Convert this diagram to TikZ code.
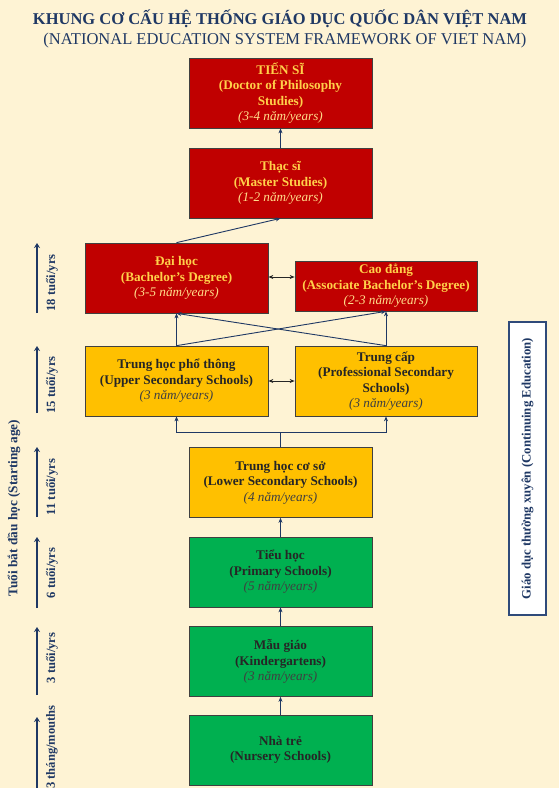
\documentclass[tikz,border=0pt]{standalone}
\usepackage{fontspec}
\setmainfont{Liberation Serif}
\usetikzlibrary{arrows.meta,calc}
\definecolor{bgc}{HTML}{FEF3D4}
\definecolor{redc}{HTML}{C00000}
\definecolor{yelc}{HTML}{FFC000}
\definecolor{grnc}{HTML}{00B050}
\definecolor{goldtxt}{HTML}{FFD04A}
\definecolor{golditc}{HTML}{FFDC8A}
\definecolor{navyc}{HTML}{1F3864}
\definecolor{darktxt}{HTML}{262626}
\definecolor{rboxc}{HTML}{2F4A7A}
\tikzset{
  box/.style={draw=black!75, line width=0.7pt, minimum width=183pt, minimum height=70pt,
    align=center, inner sep=1pt, font=\fontsize{13.2}{15.5}\selectfont\bfseries},
  redbox/.style={box, fill=redc, text=goldtxt},
  yelbox/.style={box, fill=yelc, text=darktxt},
  grnbox/.style={box, fill=grnc, text=darktxt},
  conn/.style={draw=navyc, line width=0.9pt, -{Stealth[length=5pt,width=4pt]}},
  dbl/.style={draw=black!85, line width=0.9pt, {Stealth[length=5pt,width=4pt]}-{Stealth[length=5pt,width=4pt]}},
  agearrow/.style={draw=navyc, line width=2.6pt, -{Stealth[length=5pt,width=6pt]}},
  agelabel/.style={rotate=90, font=\fontsize{12.6}{14}\selectfont\bfseries, text=navyc, inner sep=0pt},
}
\newcommand{\itred}[1]{{\mdseries\itshape\color{golditc}#1}}
\newcommand{\itdark}[1]{{\mdseries\itshape\color{black!75}#1}}
\begin{document}
\begin{tikzpicture}[x=1pt,y=-1pt]
\useasboundingbox (0,0) rectangle (559,788);
\fill[bgc] (0,0) rectangle (559,788);

% titles
\node[font=\fontsize{16.5}{19}\selectfont\bfseries, text=navyc] (t1) at (280,19) {KHUNG CƠ CẤU HỆ THỐNG GIÁO DỤC QUỐC DÂN VIỆT NAM};
\node[font=\fontsize{16.5}{19}\selectfont, text=navyc] (t2) at (285,41) {(NATIONAL EDUCATION SYSTEM FRAMEWORK OF VIET NAM)};

% boxes
\node[redbox] (phd) at (280.5,93) {TIẾN SĨ\\(Doctor of Philosophy\\Studies)\\\itred{(3-4 năm/years)}};
\node[redbox] (ms) at (280.5,183) {Thạc sĩ\\(Master Studies)\\\itred{(1-2 năm/years)}};
\node[redbox] (dh) at (176.5,278) {Đại học\\(Bachelor’s Degree)\\\itred{(3-5 năm/years)}};
\node[redbox, minimum width=182pt, minimum height=50pt] (cd) at (386,286) {Cao đẳng\\(Associate Bachelor’s Degree)\\\itred{(2-3 năm/years)}};
\node[yelbox] (thpt) at (176.5,381) {Trung học phổ thông\\(Upper Secondary Schools)\\\itdark{(3 năm/years)}};
\node[yelbox, minimum width=182pt] (tc) at (386,381) {Trung cấp\\(Professional Secondary\\Schools)\\\itdark{(3 năm/years)}};
\node[yelbox] (thcs) at (280.5,482.5) {Trung học cơ sở\\(Lower Secondary Schools)\\\itdark{(4 năm/years)}};
\node[grnbox] (th) at (280.5,572) {Tiểu học\\(Primary Schools)\\\itdark{(5 năm/years)}};
\node[grnbox] (mg) at (280.5,661.5) {Mẫu giáo\\(Kindergartens)\\\itdark{(3 năm/years)}};
\node[grnbox] (nt) at (280.5,750) {Nhà trẻ\\(Nursery Schools)};

% connectors
\draw[conn] (ms.north) -- (phd.south);
\draw[conn] (dh.north) -- (ms.south);
\draw[dbl] (dh.east |- 0,277) -- (cd.west |- 0,277);
\draw[dbl] (thpt.east) -- (tc.west);
\draw[conn] (thpt.north) -- (dh.south);
\draw[conn] (tc.north) -- (cd.south);
\draw[conn] (thpt.north) -- (cd.south);
\draw[conn] (tc.north) -- (dh.south);
\coordinate (fork) at (280.5,432);
\draw[navyc, line width=0.9pt] (thcs.north) -- (fork);
\draw[conn] (fork) -| (thpt.south);
\draw[conn] (fork) -| (tc.south);
\draw[conn] (th.north) -- (thcs.south);
\draw[conn] (mg.north) -- (th.south);
\draw[conn] (nt.north) -- (mg.south);

% continuing education box
\node[draw=rboxc, line width=2.4pt, fill=white, minimum width=293pt, minimum height=37pt,
  rotate=90, font=\fontsize{12.8}{14}\selectfont\bfseries, text=navyc] (ce) at (527.5,468.5)
  {Giáo dục thường xuyên (Continuing Education)};

% age axis
\coordinate (a18b) at (37,313); \coordinate (a18t) at (37,243);
\coordinate (a15b) at (37,413); \coordinate (a15t) at (37,346);
\coordinate (a11b) at (37,517); \coordinate (a11t) at (37,447);
\coordinate (a6b) at (37,608);  \coordinate (a6t) at (37,537);
\coordinate (a3b) at (37,695);  \coordinate (a3t) at (37,627);
\coordinate (a0b) at (37,788);  \coordinate (a0t) at (37,717);
\draw[agearrow] (a18b) -- (a18t);
\draw[agearrow] (a15b) -- (a15t);
\draw[agearrow] (a11b) -- (a11t);
\draw[agearrow] (a6b) -- (a6t);
\draw[agearrow] (a3b) -- (a3t);
\draw[agearrow] (a0b) -- (a0t);
\node[agelabel] (l18) at (52,283) {18 tuổi/yrs};
\node[agelabel] (l15) at (52,385) {15 tuổi/yrs};
\node[agelabel] (l11) at (52,487) {11 tuổi/yrs};
\node[agelabel] (l6) at (52,573) {6 tuổi/yrs};
\node[agelabel] (l3) at (52,658) {3 tuổi/yrs};
\node[agelabel] (l0) at (52,747) {3 tháng/mouths};
\node[agelabel, font=\fontsize{13.3}{15}\selectfont\bfseries] (start) at (14,508) {Tuổi bắt đầu học (Starting age)};
\end{tikzpicture}
\end{document}
